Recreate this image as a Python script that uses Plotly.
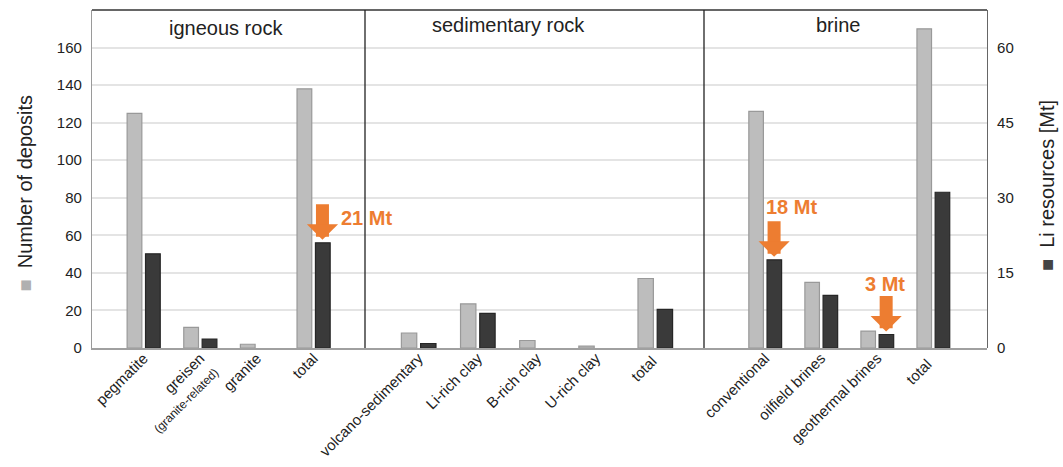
import plotly.graph_objects as go

# ---- data ----
igneous_cats = ["pegmatite", "greisen<br><span style='font-size:12px'>(granite-related)</span>", "granite", "total"]
igneous_deposits = [125, 11, 2, 138]
igneous_mt = [18.8, 1.8, None, 21]

sed_cats = ["volcano-sedimentary", "Li-rich clay", "B-rich clay", "U-rich clay", "total "]
sed_deposits = [8, 23.5, 4, 1, 37]
sed_mt = [0.9, 6.9, None, None, 7.7]

brine_cats = ["conventional", "oilfield brines", "geothermal brines", "total  "]
brine_deposits = [126, 35, 9, 170]
brine_mt = [17.6, 10.5, 2.7, 31.1]

panel_titles = ["igneous rock", "sedimentary rock", "brine"]
left_ticks = [0, 20, 40, 60, 80, 100, 120, 140, 160]
right_ticks = [0, 15, 30, 45, 60]

FONT = "Liberation Sans, Arial, sans-serif"
LIGHT = "#bdbdbd"
LIGHT_EDGE = "#999999"
DARK = "#3a3a3a"
DARK_EDGE = "#262626"
ORANGE = "#ED7D31"

W_PX, H_PX = 1063, 467
L, R, T, B = 92, 76, 10, 119
pw = W_PX - L - R
ph = H_PX - T - B

def px_x(x):
    return (x - L) / pw

def px_y(y):
    return (H_PX - B - y) / ph

d1 = px_x(365)
d2 = px_x(704)

fig = go.Figure()

panels = [
    ("x", igneous_cats, igneous_deposits, igneous_mt),
    ("x2", sed_cats, sed_deposits, sed_mt),
    ("x3", brine_cats, brine_deposits, brine_mt),
]
for xa, cats, dep, mt in panels:
    fig.add_trace(go.Bar(x=cats, y=dep, xaxis=xa, yaxis="y",
                         marker=dict(color=LIGHT, line=dict(color=LIGHT_EDGE, width=1.2)),
                         width=0.26, offset=-0.29, showlegend=False, name="Number of deposits"))
    fig.add_trace(go.Bar(x=cats, y=mt, xaxis=xa, yaxis="y2",
                         marker=dict(color=DARK, line=dict(color=DARK_EDGE, width=1.2)),
                         width=0.26, offset=0.035, showlegend=False, name="Li resources [Mt]"))

xcommon = dict(tickangle=-45, tickfont=dict(size=15, color="#222", family=FONT),
               showgrid=False, showline=True, linecolor="#a0a0a0", linewidth=1.5,
               ticks="", anchor="y", type="category", fixedrange=True, automargin=False,
               ticklabelstandoff=-6)

fig.update_layout(
    width=W_PX, height=H_PX,
    margin=dict(l=L, r=R, t=T, b=B),
    paper_bgcolor="white", plot_bgcolor="white",
    barmode="overlay",
    font=dict(family=FONT, color="#222"),
    xaxis=dict(domain=[0, d1], range=[-0.91, 3.91], **xcommon),
    xaxis2=dict(domain=[d1, d2], range=[-0.905, 4.826], **xcommon),
    xaxis3=dict(domain=[d2, 1], range=[-1.09, 3.96], **xcommon),
    yaxis=dict(range=[0, 180], tickvals=left_ticks, showgrid=True, gridcolor="#e4e4e4",
               gridwidth=1.5, zeroline=False, showline=True, linecolor="#9a9a9a",
               linewidth=1.2, ticks="", ticklabelstandoff=6, automargin=False,
               tickfont=dict(size=15, color="#222", family=FONT), anchor="x"),
    yaxis2=dict(range=[0, 67.5], tickvals=right_ticks, overlaying="y", side="right",
                anchor="free", position=1.0, showgrid=False, zeroline=False,
                showline=True, linecolor="#666", linewidth=1.2, ticks="", automargin=False,
                ticklabelstandoff=6, tickfont=dict(size=15, color="#222", family=FONT)),
)

shapes = [
    dict(type="line", xref="paper", yref="paper", x0=0, x1=1, y0=1, y1=1,
         line=dict(color="#333", width=1.5)),
    dict(type="line", xref="paper", yref="paper", x0=d1, x1=d1, y0=0, y1=1,
         line=dict(color="#222", width=1.3)),
    dict(type="line", xref="paper", yref="paper", x0=d2, x1=d2, y0=0, y1=1,
         line=dict(color="#222", width=1.3)),
]
fig.update_layout(shapes=shapes)

annotations = []
title_x = [226, 508.5, 838]
title_y = [28, 25, 25]
for t, x, y in zip(panel_titles, title_x, title_y):
    annotations.append(dict(text=t, xref="paper", yref="paper", x=px_x(x), y=px_y(y),
                            showarrow=False, font=dict(size=20, color="#222", family=FONT),
                            xanchor="center", yanchor="middle"))

# axis titles with legend squares
annotations.append(dict(text="<span style='color:#b0b0b0'>■</span>  Number of deposits",
                        xref="paper", yref="paper", x=px_x(24), y=px_y(193.5),
                        xanchor="center", yanchor="middle",
                        textangle=-90, showarrow=False,
                        font=dict(size=20, color="#222", family=FONT)))
annotations.append(dict(text="<span style='color:#444'>■</span>  Li resources [Mt]",
                        xref="paper", yref="paper", x=px_x(1047), y=px_y(186),
                        xanchor="center", yanchor="middle",
                        textangle=-90, showarrow=False,
                        font=dict(size=20, color="#222", family=FONT)))

# orange arrows pointing to dark bars
arrow_specs = [("x", igneous_cats[3], igneous_mt[3]),
               ("x3", brine_cats[0], brine_mt[0]),
               ("x3", brine_cats[2], brine_mt[2])]
for xa, cat, val in arrow_specs:
    annotations.append(dict(text="", x=cat, y=val, xref=xa, yref="y2", xshift=9,
                            showarrow=True, arrowhead=1, arrowwidth=13, arrowsize=0.4,
                            arrowcolor=ORANGE, ax=0, ay=-40, standoff=3))

labels = [("21 Mt", 366.5, 218), ("18 Mt", 791, 207), ("3 Mt", 884.5, 284)]
for t, x, y in labels:
    annotations.append(dict(text="<b>" + t + "</b>", xref="paper", yref="paper",
                            x=px_x(x), y=px_y(y), showarrow=False,
                            xanchor="center", yanchor="middle",
                            font=dict(size=20, color=ORANGE, family=FONT)))

fig.update_layout(annotations=annotations)

fig.write_html("out.html", config={"displayModeBar": False})

# remove default browser body margin so the figure sits at the page origin
with open("out.html", "r", encoding="utf-8") as f:
    html = f.read()
html = html.replace("<head>", "<head><style>html,body{margin:0;padding:0;overflow:hidden;}</style>", 1)
with open("out.html", "w", encoding="utf-8") as f:
    f.write(html)
